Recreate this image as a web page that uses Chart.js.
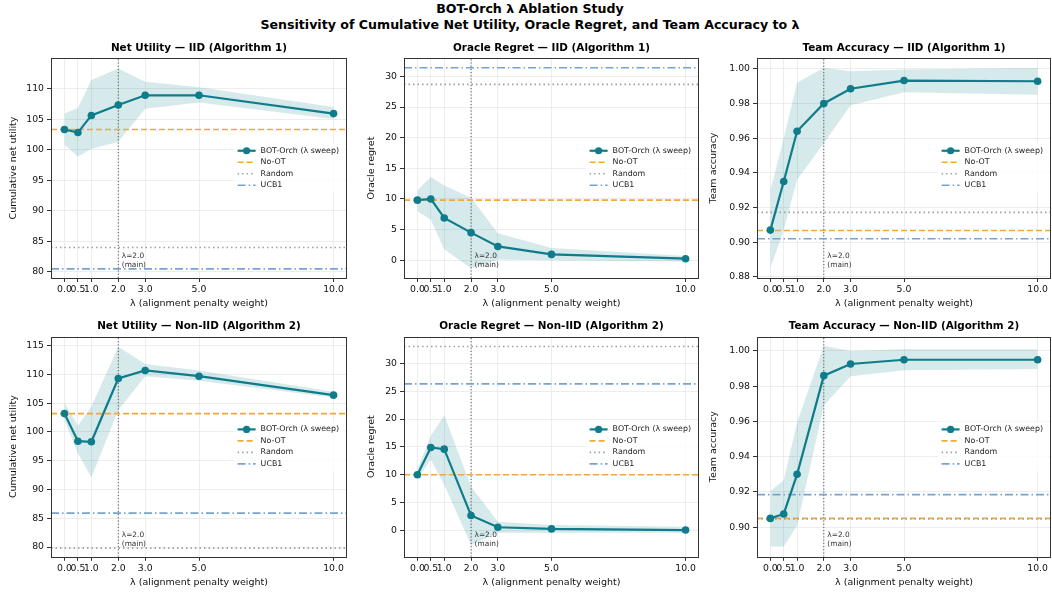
<!DOCTYPE html>
<html>
<head>
<meta charset="utf-8">
<script src="https://cdn.jsdelivr.net/npm/chart.js@4/dist/chart.umd.min.js"></script>
<style>
  body { margin: 0; width: 1052px; height: 592px; background: #fff; position: relative; overflow: hidden; font-family: "DejaVu Sans", sans-serif; }
  .sup { position: absolute; left: 0; width: 1060px; text-align: center; font-weight: bold; font-size: 12.6px; line-height: 15px; color: #000; white-space: nowrap; }
  canvas { position: absolute; }
</style>
</head>
<body>
<div class="sup" style="top:1px">BOT-Orch λ Ablation Study</div>
<div class="sup" style="top:17px">Sensitivity of Cumulative Net Utility, Oracle Regret, and Team Accuracy to λ</div>
<canvas id="c0"></canvas>
<canvas id="c1"></canvas>
<canvas id="c2"></canvas>
<canvas id="c3"></canvas>
<canvas id="c4"></canvas>
<canvas id="c5"></canvas>
<script>
// ---- data ----
const lambdas = [0, 0.5, 1, 2, 3, 5, 10];
const xLimits = [-0.5, 10.5];
const mainLabel = "BOT-Orch (λ sweep)";
const baselineLabels = ["No-OT", "Random", "UCB1"];

// Net utility, IID
const iidUtilMean  = [103.3, 102.8, 105.6, 107.3, 108.9, 108.9, 105.9];
const iidUtilUpper = [105.9, 106.8, 111.4, 113.3, 111.1, 110.2, 107.0];
const iidUtilLower = [100.8, 98.9, 100.1, 101.3, 106.7, 107.7, 105.0];
const iidUtilBase  = [103.3, 84.0, 80.5];

// Oracle regret, IID
const iidRegretMean  = [9.8, 10.0, 6.9, 4.5, 2.25, 0.95, 0.25];
const iidRegretUpper = [11.4, 13.6, 12.2, 10.2, 4.4, 2.0, 0.7];
const iidRegretLower = [8.0, 6.6, 1.8, -1.3, 0.1, 0.0, -0.2];
const iidRegretBase  = [9.8, 28.7, 31.4];

// Team accuracy, IID
const iidAccMean  = [0.907, 0.935, 0.964, 0.980, 0.9885, 0.9932, 0.9928];
const iidAccUpper = [0.930, 0.960, 0.992, 1.0006, 0.9985, 0.9996, 1.0004];
const iidAccLower = [0.885, 0.907, 0.936, 0.957, 0.979, 0.9865, 0.985];
const iidAccBase  = [0.9068, 0.9172, 0.9020];

// Net utility, Non-IID
const nonUtilMean  = [103.2, 98.4, 98.3, 109.3, 110.7, 109.7, 106.4];
const nonUtilUpper = [105.1, 101.1, 104.4, 114.8, 111.8, 110.7, 107.0];
const nonUtilLower = [102.1, 96.3, 92.1, 103.8, 109.7, 108.9, 106.0];
const nonUtilBase  = [103.2, 79.8, 85.9];

// Oracle regret, Non-IID
const nonRegretMean  = [10.0, 14.9, 14.6, 2.7, 0.6, 0.3, 0.1];
const nonRegretUpper = [11.0, 17.0, 20.7, 7.9, 1.6, 1.0, 0.7];
const nonRegretLower = [9.2, 12.7, 8.2, -2.6, -0.4, -0.4, -0.4];
const nonRegretBase  = [10.0, 33.0, 26.3];

// Team accuracy, Non-IID
const nonAccMean  = [0.905, 0.9075, 0.930, 0.986, 0.9926, 0.995, 0.995];
const nonAccUpper = [0.9205, 0.9267, 0.9595, 1.003, 1.000, 1.001, 1.001];
const nonAccLower = [0.889, 0.889, 0.901, 0.969, 0.9857, 0.989, 0.9897];
const nonAccBase  = [0.905, 0.9047, 0.9185];

// axis ranges and ticks
const iidUtilLim = [79.0, 115.0];
const iidRegretLim = [-2.9, 33.0];
const iidAccLim = [0.8794, 1.0062];
const nonUtilLim = [78.3, 116.6];
const nonRegretLim = [-4.7, 34.8];
const nonAccLim = [0.8832, 1.0082];
const utilTicksIid = [80, 85, 90, 95, 100, 105, 110];
const utilTicksNon = [80, 85, 90, 95, 100, 105, 110, 115];
const regretTicks = [0, 5, 10, 15, 20, 25, 30];
const accTicksIid = [0.88, 0.90, 0.92, 0.94, 0.96, 0.98, 1.00];
const accTicksNon = [0.90, 0.92, 0.94, 0.96, 0.98, 1.00];

// ---- layout / style ----
const colX = [0, 352, 704], colW = [352, 352, 348];
const colLeft = [51, 52, 53], colRight = [5, 5, 1];
const colLabelPad = [7.6, 14, 3.6];
const rowY = [30, 310], rowH = [282, 282];
const rowTop = [28, 26.5], rowBottom = [34, 35.2];

const TEAL = "#0e7c8a";
const BAND = "rgba(14,124,138,0.17)";
const baseColors = ["#f2a83a", "#a0a0a0", "#78a3d1"];
const baseDashes = [[6, 3], [1.5, 3], [8, 3, 1.5, 3]];
const FONT = "DejaVu Sans";

Chart.defaults.font.family = FONT;
Chart.defaults.color = "#111";

const panels = [
  { title: "Net Utility — IID (Algorithm 1)", yLabel: "Cumulative net utility", mean: iidUtilMean, upper: iidUtilUpper, lower: iidUtilLower, base: iidUtilBase, lim: iidUtilLim, ticks: utilTicksIid, dec: 0 },
  { title: "Oracle Regret — IID (Algorithm 1)", yLabel: "Oracle regret", mean: iidRegretMean, upper: iidRegretUpper, lower: iidRegretLower, base: iidRegretBase, lim: iidRegretLim, ticks: regretTicks, dec: 0 },
  { title: "Team Accuracy — IID (Algorithm 1)", yLabel: "Team accuracy", mean: iidAccMean, upper: iidAccUpper, lower: iidAccLower, base: iidAccBase, lim: iidAccLim, ticks: accTicksIid, dec: 2 },
  { title: "Net Utility — Non-IID (Algorithm 2)", yLabel: "Cumulative net utility", mean: nonUtilMean, upper: nonUtilUpper, lower: nonUtilLower, base: nonUtilBase, lim: nonUtilLim, ticks: utilTicksNon, dec: 0 },
  { title: "Oracle Regret — Non-IID (Algorithm 2)", yLabel: "Oracle regret", mean: nonRegretMean, upper: nonRegretUpper, lower: nonRegretLower, base: nonRegretBase, lim: nonRegretLim, ticks: regretTicks, dec: 0 },
  { title: "Team Accuracy — Non-IID (Algorithm 2)", yLabel: "Team accuracy", mean: nonAccMean, upper: nonAccUpper, lower: nonAccLower, base: nonAccBase, lim: nonAccLim, ticks: accTicksNon, dec: 2 }
];

const pts = ys => lambdas.map((x, i) => ({ x, y: ys[i] }));

// frame, panel title, λ=2 note and legend
const decorPlugin = {
  id: "decor",
  afterDatasetsDraw(chart) {
    const { ctx, chartArea: a } = chart;
    ctx.save();
    ctx.strokeStyle = "#333";
    ctx.lineWidth = 1;
    ctx.strokeRect(Math.round(a.left) + 0.5, Math.round(a.top) + 0.5, Math.round(a.right - a.left) - 1, Math.round(a.bottom - a.top));
    ctx.restore();
  },
  afterDraw(chart) {
    const { ctx, chartArea: a, scales } = chart;
    const p = chart.options.plugins.decor;
    ctx.save();
    // panel title
    ctx.fillStyle = "#000";
    ctx.font = `bold 10.4px ${FONT}`;
    ctx.textAlign = "center";
    ctx.textBaseline = "middle";
    ctx.fillText(p.title, (a.left + a.right) / 2, a.top - 10);

    // λ=2.0 note
    const x2 = scales.x.getPixelForValue(2) + 3.5;
    ctx.font = `7.4px ${FONT}`;
    ctx.fillStyle = "#333";
    ctx.textAlign = "left";
    ctx.fillText("λ=2.0", x2, a.bottom - 22);
    ctx.fillText("(main)", x2, a.bottom - 12.5);

    // legend, centre right
    const items = [
      { label: mainLabel, color: TEAL, dash: [], width: 2.2, marker: true },
      ...baselineLabels.map((label, i) => ({ label, color: baseColors[i], dash: baseDashes[i], width: 1.6 }))
    ];
    ctx.font = `7.9px ${FONT}`;
    const maxW = Math.max(...items.map(it => ctx.measureText(it.label).width));
    const rowGap = 11.5;
    const cy = (a.top + a.bottom) / 2;
    const textX = a.right - 8 - maxW;
    const top = cy - rowGap * 1.5;
    ctx.fillStyle = "rgba(255,255,255,0.8)";
    ctx.fillRect(textX - 27, top - 8, maxW + 33, rowGap * 4 + 4);
    items.forEach((it, i) => {
      const y = top + i * rowGap;
      ctx.strokeStyle = it.color;
      ctx.lineWidth = it.width;
      ctx.setLineDash(it.dash);
      ctx.beginPath();
      ctx.moveTo(textX - 23, y);
      ctx.lineTo(textX - 5, y);
      ctx.stroke();
      ctx.setLineDash([]);
      if (it.marker) {
        ctx.fillStyle = it.color;
        ctx.beginPath();
        ctx.arc(textX - 14, y, 3.6, 0, Math.PI * 2);
        ctx.fill();
      }
      ctx.fillStyle = "#222";
      ctx.fillText(it.label, textX, y);
    });
    ctx.restore();
  }
};

panels.forEach((p, k) => {
  const col = k % 3, row = Math.floor(k / 3);
  const canvas = document.getElementById("c" + k);
  canvas.width = colW[col];
  canvas.height = rowH[row];
  canvas.style.left = colX[col] + "px";
  canvas.style.top = rowY[row] + "px";

  const datasets = [
    {
      label: mainLabel, data: pts(p.mean), order: 0,
      borderColor: TEAL, backgroundColor: TEAL, borderWidth: 2.2,
      pointRadius: 3.8, pointBackgroundColor: TEAL, pointBorderWidth: 0, fill: false, tension: 0
    },
    ...p.base.map((v, i) => ({
      label: baselineLabels[i], data: [{ x: xLimits[0], y: v }, { x: xLimits[1], y: v }], order: 3 - i,
      borderColor: baseColors[i], borderDash: baseDashes[i], borderWidth: 1.6, pointRadius: 0, fill: false
    })),
    {
      label: "lambda main", data: [{ x: 2, y: p.lim[0] }, { x: 2, y: p.lim[1] }], order: 5,
      borderColor: "#555", borderDash: [1.2, 2], borderWidth: 1, pointRadius: 0, fill: false
    },
    {
      label: "lower", data: pts(p.lower), order: 6,
      borderWidth: 0, pointRadius: 0, fill: false
    },
    {
      label: "upper", data: pts(p.upper), order: 6,
      borderWidth: 0, pointRadius: 0, fill: "-1", backgroundColor: BAND
    }
  ];

  new Chart(canvas, {
    type: "line",
    data: { datasets },
    plugins: [decorPlugin],
    options: {
      responsive: false,
      animation: false,
      devicePixelRatio: 1,
      events: [],
      layout: { autoPadding: false, padding: { top: rowTop[row], right: colRight[col], left: 0, bottom: 0 } },
      plugins: {
        legend: { display: false },
        tooltip: { enabled: false },
        decor: { title: p.title }
      },
      scales: {
        x: {
          type: "linear",
          min: xLimits[0], max: xLimits[1],
          afterBuildTicks: s => { s.ticks = lambdas.map(v => ({ value: v })); },
          afterFit: s => { s.height = rowBottom[row]; },
          ticks: { autoSkip: false, maxRotation: 0, padding: 2, color: "#111", font: { size: 9.3 }, callback: v => Number(v).toFixed(1) },
          grid: { color: "#e9e9e9", lineWidth: 0.8, tickColor: "#333", tickLength: 4, tickWidth: 1 },
          border: { display: false },
          title: { display: true, text: "λ (alignment penalty weight)", color: "#111", font: { size: 9.5 }, padding: { top: 0, bottom: row ? 3.6 : 2.3 } }
        },
        y: {
          type: "linear",
          min: p.lim[0], max: p.lim[1],
          afterBuildTicks: s => { s.ticks = p.ticks.map(v => ({ value: v })); },
          afterFit: s => { s.width = colLeft[col]; },
          ticks: { padding: 3, color: "#111", font: { size: 9.3 }, callback: v => Number(v).toFixed(p.dec) },
          grid: { color: "#e9e9e9", lineWidth: 0.8, tickColor: "#333", tickLength: 4, tickWidth: 1 },
          border: { display: false },
          title: { display: true, text: p.yLabel, color: "#111", font: { size: 9.5 }, padding: { top: colLabelPad[col], bottom: 0 } }
        }
      }
    }
  });
});
</script>
</body>
</html>
